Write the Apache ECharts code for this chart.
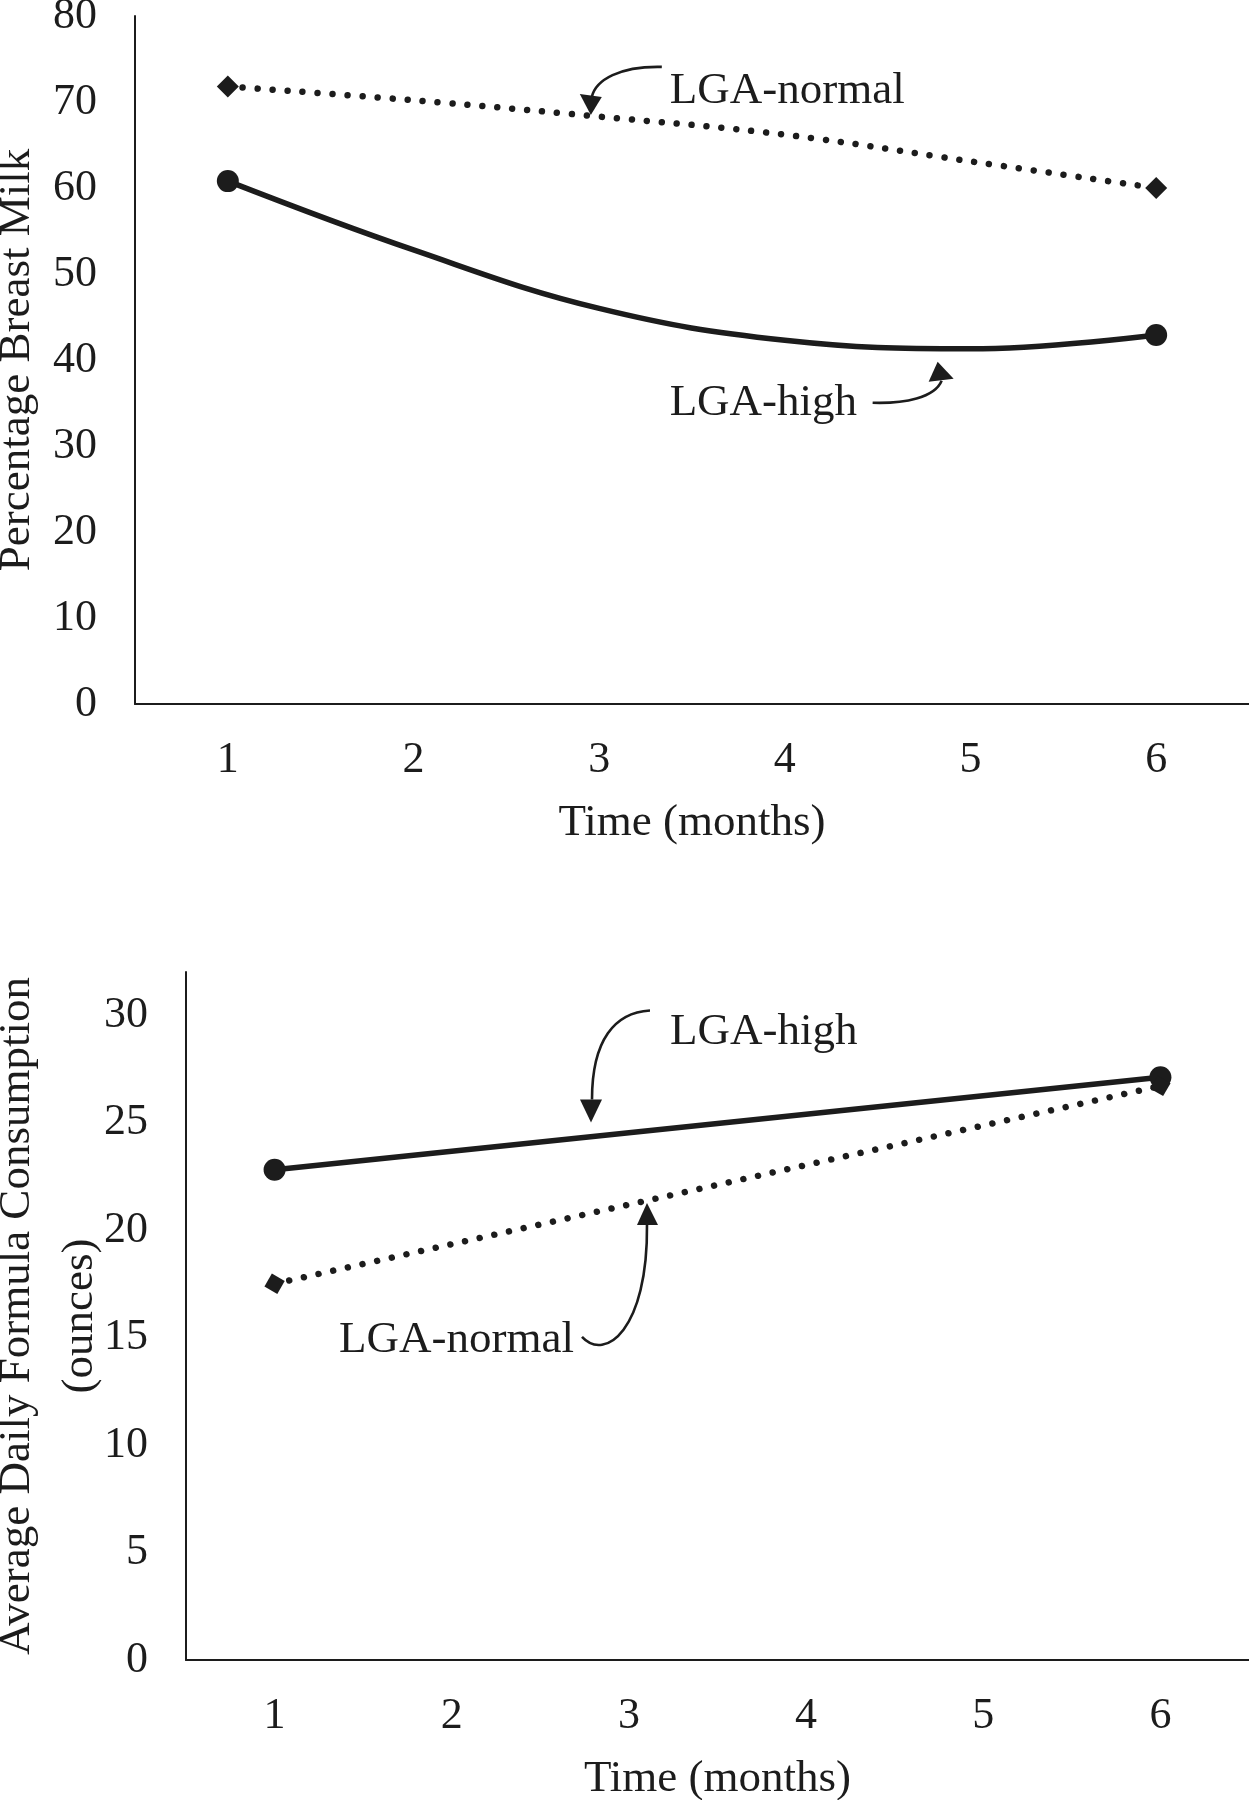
<!DOCTYPE html>
<html><head><meta charset="utf-8">
<script src="https://cdn.jsdelivr.net/npm/echarts@6/dist/echarts.min.js"></script>
<style>html,body{margin:0;padding:0;background:#fff}#c{width:1249px;height:1800px}</style>
</head><body><div id="c"></div>
<script>
// ---- data ----
const months = ['1', '2', '3', '4', '5', '6'];
const breastMilkNormal = [71.8, 70.2, 68.3, 66.2, 63.1, 60.0];
const breastMilkHigh = [60.8, 52.8, 46.0, 42.3, 41.3, 42.9];
const formulaHigh = [22.8, null, null, null, null, 27.1];
const formulaNormal = [17.5, null, null, null, null, 26.7];
const topYTitle = 'Percentage Breast Milk';
const bottomYTitle = 'Average Daily Formula Consumption\n(ounces)';
const xTitle = 'Time (months)';

// ---- annotations (tip anchored in data space, shape in pixel offsets) ----
const notes = [
  {g: 0, text: 'LGA-normal', tip: [1.955, 68.5], textAt: [79, -24],
   curve: [[71, -48], [29, -49], [5, -35], [1, -18]], head: [[-11, -21], [11, -18]]},
  {g: 0, text: 'LGA-high', tip: [3.823, 39.8], textAt: [-268, 41],
   curve: [[-65, 41], [-33, 42], [-3, 36], [4, 19]], head: [[-9, 20], [16, 17]]},
  {g: 1, text: 'LGA-high', tip: [1.786, 25.0], textAt: [79, -90],
   curve: [[59, -112], [24, -110], [1, -83], [1, -23]], head: [[-11, -23], [11, -23]]},
  {g: 1, text: 'LGA-normal', tip: [2.102, 21.26], textAt: [-308, 137],
   curve: [[-65, 134], [-42, 159], [1, 127], [0, 22]], head: [[-10, 22], [11, 22]]}
];

const FONT = "'Liberation Serif','Times New Roman',serif";
const INK = '#1c1c1c';
const FS = 44;
const FS2 = 45;

function withEnds(arr, sym) {
  const last = arr.length - 1;
  return arr.map((v, i) => ({value: v, symbol: (i === 0 || i === last) ? sym : 'none'}));
}

const chart = echarts.init(document.getElementById('c'), null, {renderer: 'canvas'});

function xAxisCfg(g) {
  return {
    gridIndex: g, type: 'category', data: months, boundaryGap: true,
    axisLine: {lineStyle: {color: INK, width: 2}},
    axisTick: {show: false},
    axisLabel: {fontSize: FS, fontFamily: FONT, color: INK, margin: 34},
    name: xTitle, nameLocation: 'middle', nameGap: 97, nameMoveOverlap: false,
    nameTextStyle: {fontSize: FS2, fontFamily: FONT, color: INK}
  };
}
function yAxisCfg(g, max, interval, name, gap) {
  return {
    gridIndex: g, type: 'value', min: 0, max: max, interval: interval,
    axisLine: {show: true, lineStyle: {color: INK, width: 2}},
    axisTick: {show: false}, splitLine: {show: false},
    axisLabel: {fontSize: FS, fontFamily: FONT, color: INK, margin: 38,
      formatter: v => (v % interval === 0 ? String(v) : '')},
    name: name, nameLocation: 'middle', nameGap: gap, nameRotate: 90, nameMoveOverlap: false,
    nameTextStyle: {fontSize: FS2, fontFamily: FONT, color: INK, lineHeight: 63, align: 'center'}
  };
}

const dotted = {color: INK, width: 6.5, type: [0.01, 15], cap: 'round'};
const solid = {color: INK, width: 5.5};

chart.setOption({
  animation: false,
  backgroundColor: '#fff',
  grid: [
    {left: 135, top: 16, right: 0, height: 688, containLabel: false, outerBoundsMode: 'none'},
    {left: 186, top: 972, right: 0, height: 688, containLabel: false, outerBoundsMode: 'none'}
  ],
  xAxis: [xAxisCfg(0), xAxisCfg(1)],
  yAxis: [
    yAxisCfg(0, 80, 10, topYTitle, 86),
    yAxisCfg(1, 32, 5, bottomYTitle, 74)
  ],
  series: [
    {name: 'LGA-normal', type: 'line', xAxisIndex: 0, yAxisIndex: 0, smooth: 0.4,
     data: withEnds(breastMilkNormal, 'diamond'), showAllSymbol: true, symbolSize: 22,
     itemStyle: {color: INK}, lineStyle: dotted, z: 3},
    {name: 'LGA-high', type: 'line', xAxisIndex: 0, yAxisIndex: 0, smooth: 0.4,
     data: withEnds(breastMilkHigh, 'circle'), showAllSymbol: true, symbolSize: 22,
     itemStyle: {color: INK}, lineStyle: solid, z: 3},
    {name: 'LGA-high', type: 'line', xAxisIndex: 1, yAxisIndex: 1, connectNulls: true,
     data: formulaHigh, symbol: 'circle', symbolSize: 22,
     itemStyle: {color: INK}, lineStyle: solid, z: 3},
    {name: 'LGA-normal', type: 'line', xAxisIndex: 1, yAxisIndex: 1, connectNulls: true,
     data: formulaNormal, symbol: 'diamond', symbolSize: 21, symbolRotate: 15,
     itemStyle: {color: INK}, lineStyle: dotted, z: 3}
  ]
});

function px(g, idx, val) {
  const a = chart.convertToPixel({gridIndex: g}, [0, val]);
  const b = chart.convertToPixel({gridIndex: g}, [1, val]);
  return [a[0] + idx * (b[0] - a[0]), a[1]];
}

const graphics = [];
notes.forEach(n => {
  const t = px(n.g, n.tip[0], n.tip[1]);
  const P = o => [t[0] + o[0], t[1] + o[1]];
  const c = n.curve.map(P);
  graphics.push({type: 'bezierCurve', silent: true, z: 10,
    shape: {x1: c[0][0], y1: c[0][1], cpx1: c[1][0], cpy1: c[1][1],
            cpx2: c[2][0], cpy2: c[2][1], x2: c[3][0], y2: c[3][1]},
    style: {stroke: INK, lineWidth: 2.6, fill: null}});
  graphics.push({type: 'polygon', silent: true, z: 10,
    shape: {points: [t, P(n.head[0]), P(n.head[1])]},
    style: {fill: INK}});
  const tp = P(n.textAt);
  graphics.push({type: 'text', silent: true, z: 10, x: tp[0], y: tp[1],
    style: {text: n.text, font: FS2 + 'px ' + FONT, fill: INK, align: 'left', verticalAlign: 'middle'}});
});
chart.setOption({graphic: graphics});
</script>
</body></html>
